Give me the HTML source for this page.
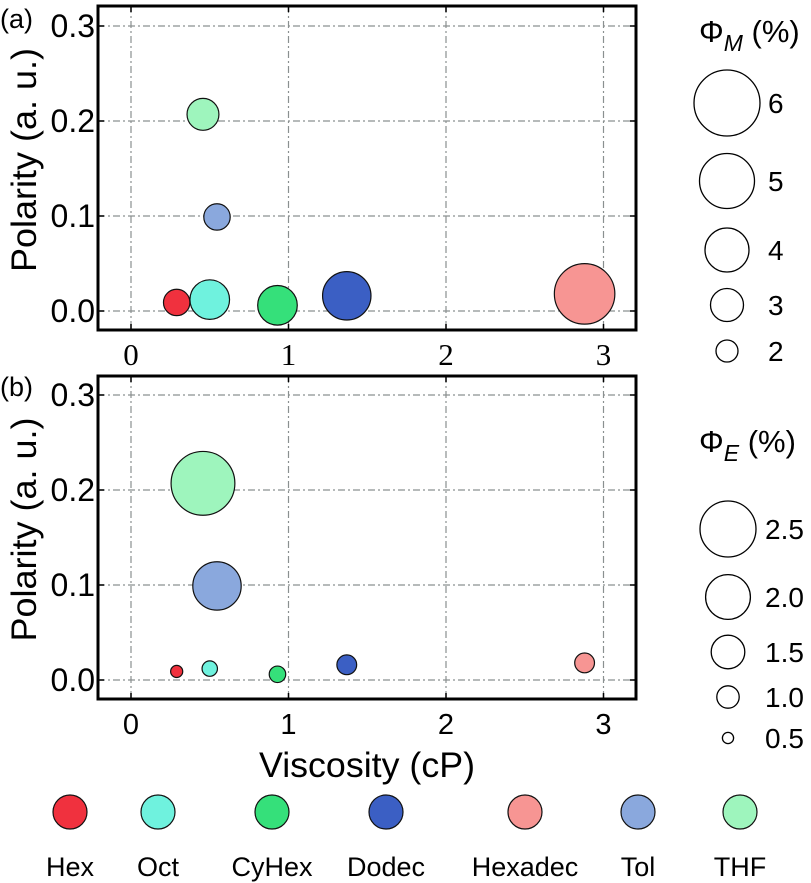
<!DOCTYPE html>
<html><head><meta charset="utf-8"><style>
body{margin:0;background:#fff}
svg{display:block;font-family:"Liberation Sans",sans-serif}
</style></head><body>
<svg id="c" width="811" height="883" viewBox="0 0 811 883"></svg>
<script>
const solvents=["Hex","Oct","CyHex","Dodec","Hexadec","Tol","THF"];
const colors=["#f0313e","#6ff2de","#35e07a","#3b5fc4","#f79593","#8aa8dd","#9ef5bd"];
const viscosity=[0.29,0.50,0.93,1.37,2.88,0.546,0.457];
const polarity=[0.009,0.012,0.006,0.016,0.018,0.099,0.207];
const phiM=[2.4,3.6,3.6,4.4,5.5,2.4,2.9];
const phiE=[0.55,0.7,0.75,0.9,0.9,2.2,2.9];
const xTicks=[0,1,2,3];
const yTicks=[0.0,0.1,0.2,0.3];
const yTickLabels=["0.0","0.1","0.2","0.3"];
const legendM=[6,5,4,3,2];
const legendE=[2.5,2.0,1.5,1.0,0.5];
const legendELabels=["2.5","2.0","1.5","1.0","0.5"];

const NS="http://www.w3.org/2000/svg";
const svg=document.getElementById('c');
function mk(tag,attrs,parent,text){const e=document.createElementNS(NS,tag);for(const k in attrs)e.setAttribute(k,attrs[k]);if(text!==undefined)e.textContent=text;(parent||svg).appendChild(e);return e;}

const L=98,R=636;
const xScale=v=>131+v*157.5;
function panel(top,bottom,y0,sizes,rk,serifX,name){
  const yScale=v=>y0-v*950;
  const g=mk('g',{});
  
  
  xTicks.forEach(t=>{const l=mk('line',{x1:xScale(t),x2:xScale(t),y1:top,y2:bottom,stroke:'#8a9090','stroke-width':1.2,'stroke-dasharray':'7,3,2,3'},g);
    
    mk('line',{x1:xScale(t),x2:xScale(t),y1:top,y2:top+6,stroke:'#000','stroke-width':1.5},g);
    mk('line',{x1:xScale(t),x2:xScale(t),y1:bottom,y2:bottom-6,stroke:'#000','stroke-width':1.5},g);
    const tx=mk('text',{x:xScale(t),y:bottom+35,'text-anchor':'middle','font-size':serifX?31:29,'font-family':serifX?'"Liberation Serif",serif':'"Liberation Sans",sans-serif'},g,String(t));
    });
  yTicks.forEach((t,i)=>{const l=mk('line',{x1:L,x2:R,y1:yScale(t),y2:yScale(t),stroke:'#8a9090','stroke-width':1.2,'stroke-dasharray':'7,3,2,3'},g);
    
    mk('line',{x1:L,x2:L+6,y1:yScale(t),y2:yScale(t),stroke:'#000','stroke-width':1.5},g);
    mk('line',{x1:R,x2:R-6,y1:yScale(t),y2:yScale(t),stroke:'#000','stroke-width':1.5},g);
    const tx=mk('text',{x:L-3,y:yScale(t)+11,'text-anchor':'end','font-size':32},g,yTickLabels[i]);
    });
  solvents.forEach((s,i)=>{const c=mk('circle',{cx:xScale(viscosity[i]),cy:yScale(polarity[i]),r:sizes[i]*rk,fill:colors[i],stroke:'#111','stroke-width':1.2},g);
    });
  const f=mk('rect',{x:L,y:top,width:R-L,height:bottom-top,fill:'none',stroke:'#000','stroke-width':3},g);
  
  const yl=mk('text',{x:0,y:0,transform:`translate(36,${(top+bottom)/2-8}) rotate(-90)`,'text-anchor':'middle','font-size':35,textLength:224,lengthAdjust:'spacingAndGlyphs'},g,'Polarity (a. u.)');
  
}
panel(6,330,311,phiM,5.5,true,'panel-a');
panel(376,699,680,phiE,11,false,'panel-b');
let t=mk('text',{x:0,y:28,'font-size':27},svg,'(a)');
t=mk('text',{x:0,y:396,'font-size':27},svg,'(b)');
t=mk('text',{x:367,y:777,'text-anchor':'middle','font-size':35,textLength:216,lengthAdjust:'spacingAndGlyphs'},svg,'Viscosity (cP)');

// size legends
const lm=mk('g',{});
t=mk('text',{x:699,y:42,'font-size':31},lm);t.innerHTML='Φ<tspan font-style="italic" font-size="23" dy="9">M</tspan><tspan dy="-9"> (%)</tspan>';

const lmY=[103,181,250,305,351];
legendM.forEach((v,i)=>{const c=mk('circle',{cx:727,cy:lmY[i],r:v*5.5,fill:'none',stroke:'#000','stroke-width':1.3},lm);
  
  const tx=mk('text',{x:768,y:lmY[i]+10,'font-size':28},lm,String(v));});
const le=mk('g',{});
t=mk('text',{x:699,y:452,'font-size':31},le);t.innerHTML='Φ<tspan font-style="italic" font-size="23" dy="9">E</tspan><tspan dy="-9"> (%)</tspan>';

const leY=[529,597,652,697,738];
legendE.forEach((v,i)=>{const c=mk('circle',{cx:728,cy:leY[i],r:v*11.2,fill:'none',stroke:'#000','stroke-width':1.3},le);
  
  const tx=mk('text',{x:765,y:leY[i]+10,'font-size':28},le,legendELabels[i]);});

// color legend
const lgX=[70,158,272,386,525,638,740];
const cl=mk('g',{});
solvents.forEach((s,i)=>{const c=mk('circle',{cx:lgX[i],cy:812,r:17,fill:colors[i],stroke:'#111','stroke-width':1.2},cl);
  
  const tx=mk('text',{x:lgX[i],y:876,'text-anchor':'middle','font-size':27},cl,s);});
</script>
</body></html>
